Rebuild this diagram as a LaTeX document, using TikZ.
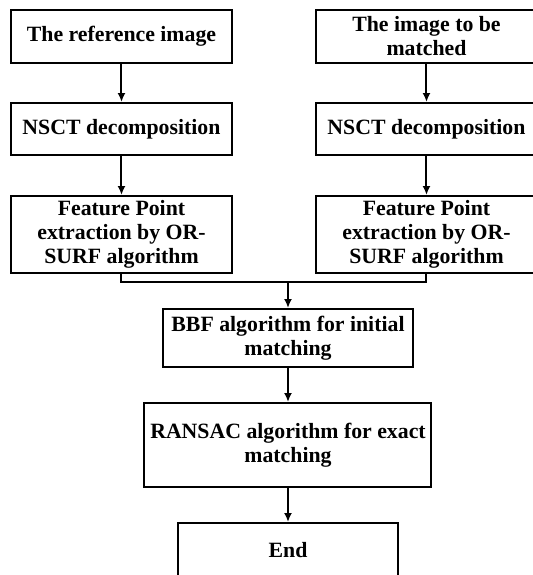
\documentclass[tikz,border=0pt]{standalone}
\usepackage{fontspec}
\setmainfont{Liberation Serif}
\usetikzlibrary{arrows.meta}

\begin{document}
\begin{tikzpicture}[x=0.5pt,y=-0.5pt,
    stage/.style={draw,line width=1pt,align=center,inner sep=0pt,
      font=\fontsize{10.9}{12}\selectfont\bfseries},
    flow/.style={line width=1pt,-{Latex[length=4.5pt,width=4pt]}}]
  \useasboundingbox (0,0) rectangle (533,575);
  \clip (0,0) rectangle (533,575);
  % left branch
  \node[stage,minimum width=110.5pt,minimum height=26.5pt] (ref) at (121.5,36.5) {The reference image};
  \node[stage,minimum width=110.5pt,minimum height=26pt] (nsct1) at (121.5,129) {NSCT decomposition};
  \node[stage,minimum width=110.5pt,minimum height=38.5pt] (feat1) at (121.5,234.5) {Feature Point\\extraction by OR-\\SURF algorithm};
  % right branch
  \node[stage,minimum width=110.5pt,minimum height=26.5pt] (tbm) at (426.5,36.5) {The image to be\\matched};
  \node[stage,minimum width=110.5pt,minimum height=26pt] (nsct2) at (426.5,129) {NSCT decomposition};
  \node[stage,minimum width=110.5pt,minimum height=38.5pt] (feat2) at (426.5,234.5) {Feature Point\\extraction by OR-\\SURF algorithm};
  % common part
  \coordinate (join) at (288,282);
  \node[stage,minimum width=125pt,minimum height=29pt] (bbf) at (288,338) {BBF algorithm for initial\\matching};
  \node[stage,minimum width=143.5pt,minimum height=42pt] (ransac) at (288,445) {RANSAC algorithm for exact\\matching};
  \node[stage,minimum width=110pt,minimum height=27pt] (end) at (288,550) {End};

  \draw[flow] (ref) -- (nsct1);
  \draw[flow] (nsct1) -- (feat1);
  \draw[flow] (tbm) -- (nsct2);
  \draw[flow] (nsct2) -- (feat2);
  \draw[line width=1pt] (feat1.south) |- (join) -| (feat2.south);
  \draw[flow] (join) -- (bbf);
  \draw[flow] (bbf) -- (ransac);
  \draw[flow] (ransac) -- (end);
\end{tikzpicture}
\end{document}
